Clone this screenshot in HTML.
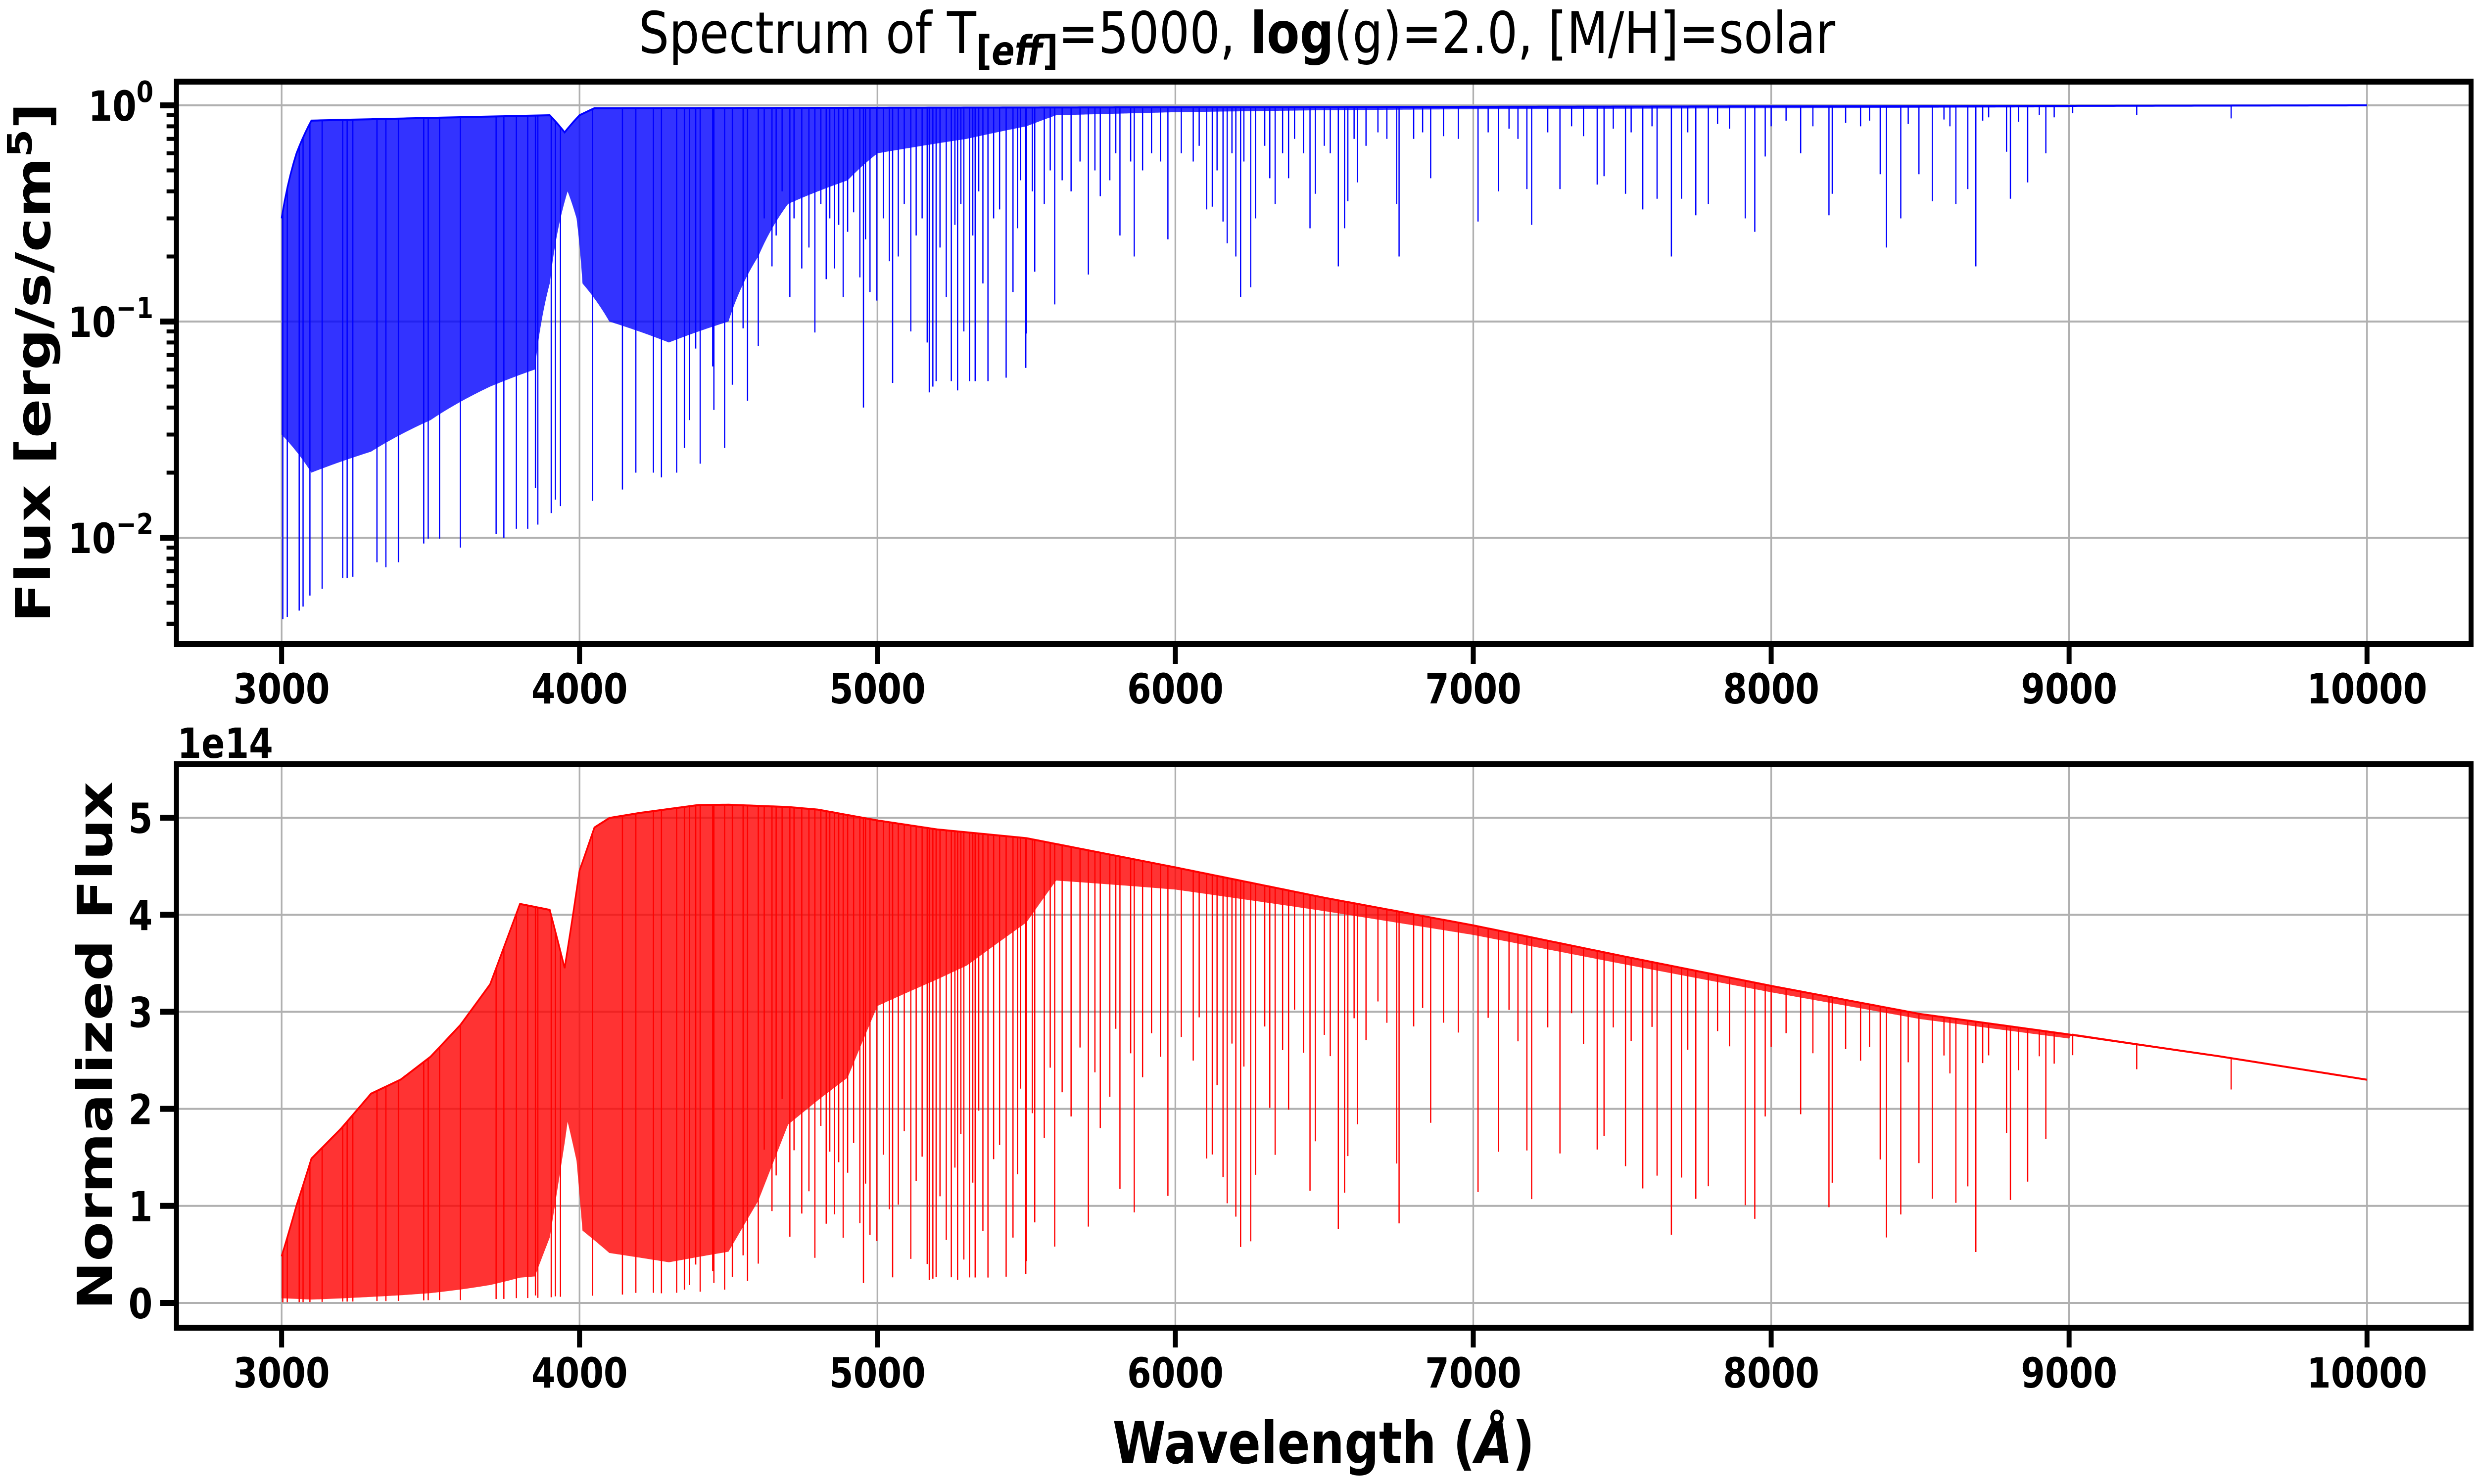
<!DOCTYPE html>
<html><head><meta charset="utf-8"><style>
html,body{margin:0;padding:0;background:#fff;width:100%;height:100%;overflow:hidden}
svg{display:block;width:100vw;height:100vh}
text{font-family:"DejaVu Sans","Liberation Sans",sans-serif}
</style></head><body>
<svg id="chart" viewBox="0 0 6000 3000" preserveAspectRatio="none" xmlns="http://www.w3.org/2000/svg">
<rect width="6000" height="3000" fill="#fff"/>
<defs>
<clipPath id="clipTop"><rect x="428" y="165" width="5565" height="1137"/></clipPath>
<clipPath id="clipBot"><rect x="428" y="1545" width="5565" height="1139"/></clipPath>
</defs>
<text x="3000" y="107" text-anchor="middle" font-size="116">Spectrum of T<tspan font-size="82" dy="24" font-weight="bold">[<tspan font-style="italic">eff</tspan>]</tspan><tspan dy="-24">=5000, </tspan><tspan font-weight="bold">log</tspan>(g)=2.0, [M/H]=solar</text>
<g id="topGrid"></g>
<g id="botGrid"></g>
<g id="topData" clip-path="url(#clipTop)"></g>
<g id="botData" clip-path="url(#clipBot)"></g>
<rect x="428" y="165" width="5565" height="1137" fill="none" stroke="#000" stroke-width="12"/>
<rect x="428" y="1545" width="5565" height="1139" fill="none" stroke="#000" stroke-width="12"/>
<g id="ticks"></g>
<text transform="translate(121,733) rotate(-90)" text-anchor="middle" font-size="117" font-weight="bold">Flux [erg/s/cm<tspan font-size="82" dy="-44">5</tspan><tspan dy="44">]</tspan></text>
<text transform="translate(271,2114) rotate(-90)" text-anchor="middle" font-size="117" font-weight="bold">Normalized Flux</text>
<text x="430" y="1532" font-size="84" font-weight="bold">1e14</text>
<text x="3210" y="2958" text-anchor="middle" font-size="117" font-weight="bold">Wavelength (<tspan font-style="italic">Å</tspan>)</text>
</svg>
<script>
const xTicks=[3000,4000,5000,6000,7000,8000,9000,10000];
const topTickExp=[0,-1,-2];
const botTicks=[0,1,2,3,4,5];
const contW=[3000,3100,3200,3300,3400,3500,3600,3700,3800,3900,3950,4000,4100,4200,4400,4500,4700,4800,5000,5200,5500,6000,6500,7000,7500,8000,8500,9000,9500,10000];
const contF=[1.6,1.75,2.1,2.5,2.65,2.9,3.25,3.7,4.6,4.5,4.6,4.95,5.15,5.2,5.28,5.28,5.25,5.22,5.1,5.0,4.9,4.58,4.25,3.95,3.62,3.3,3.0,2.78,2.55,2.3];
const forestW=[3000,3050,3100,3300,3500,3700,3850,3900,3960,3990,4010,4100,4300,4500,4600,4700,4900,5000,5300,5500,5600,6000,6500,7000,9000,9010,10000];
const forestLow=[0.03,0.025,0.02,0.025,0.035,0.05,0.06,0.15,0.4,0.3,0.15,0.1,0.08,0.1,0.2,0.35,0.45,0.6,0.7,0.8,0.9,0.93,0.95,0.96,0.98,1,1];
const forestHighW=[3000,3050,3100,3900,3950,4000,4050,10000];
const forestHigh=[0.3,0.6,0.85,0.9,0.75,0.9,0.97,1];
const lineW=[3004,3019,3059,3072,3095,3136,3205,3220,3239,3320,3350,3392,3477,3492,3530,3600,3720,3746,3788,3826,3860,3905,3936,3919,3852,4044,4144,4189,4248,4275,4326,4405,4352,4487,4369,4451,4564,4513,4447,4390,4600,4549,4646,4706,4790,4746,4828,4856,4885,4953,4941,4975,4998,5040,5112,5051,5174,5186,5167,5197,5248,5269,5309,5328,5371,5432,5498,5500,5231,5290,5354,5455,5528,5595,5708,5748,5862,5975,5814,6105,6124,6160,6174,6203,6219,6253,6269,6317,6335,6380,6452,6470,6547,6568,6579,6611,6743,6751,6857,7016,7085,7180,7196,7291,7416,7439,7511,7569,7617,7665,7699,7747,7789,7913,7945,7980,8099,8194,8205,8366,8387,8435,8496,8541,8620,8660,8687,8790,8803,8861,8922,9012,9227,9544];
const lineF=[0.0042,0.0043,0.0046,0.0048,0.0054,0.0058,0.0065,0.0065,0.0066,0.0077,0.0073,0.0077,0.0094,0.0099,0.0099,0.009,0.0104,0.01,0.011,0.011,0.0115,0.013,0.014,0.015,0.017,0.0148,0.0167,0.02,0.02,0.019,0.02,0.022,0.026,0.026,0.035,0.039,0.043,0.051,0.062,0.075,0.077,0.093,0.18,0.13,0.089,0.176,0.157,0.176,0.13,0.04,0.16,0.137,0.125,0.19,0.09,0.052,0.047,0.05,0.08,0.053,0.053,0.048,0.053,0.053,0.053,0.055,0.061,0.088,0.13,0.09,0.15,0.137,0.17,0.12,0.165,0.38,0.2,0.24,0.25,0.33,0.34,0.29,0.23,0.2,0.13,0.144,0.3,0.46,0.35,0.46,0.27,0.39,0.18,0.27,0.36,0.44,0.35,0.2,0.46,0.29,0.4,0.41,0.28,0.41,0.43,0.47,0.39,0.33,0.37,0.2,0.37,0.31,0.35,0.3,0.26,0.58,0.6,0.31,0.39,0.48,0.22,0.3,0.48,0.36,0.35,0.41,0.18,0.61,0.37,0.44,0.6,0.92,0.9,0.87];
const shallowW=[4620,4660,4680,4720,4770,4810,4840,4870,4900,4920,4960,5020,5070,5090,5130,5150,5210,5260,5280,5320,5340,5390,5410,5470,5480,5520,5560,5580,5620,5650,5680,5730,5780,5800,5850,5890,5920,5950,6020,6060,6080,6140,6190,6230,6300,6360,6400,6430,6500,6520,6600,6640,6680,6710,6800,6830,6900,6950,7050,7120,7150,7250,7330,7370,7470,7530,7600,7720,7820,7860,8000,8050,8140,8250,8300,8330,8460,8580,8600,8710,8730,8830,8900,8950];
const shallowF=[0.3,0.25,0.4,0.3,0.22,0.35,0.3,0.28,0.26,0.32,0.24,0.3,0.2,0.35,0.25,0.3,0.22,0.28,0.35,0.25,0.4,0.3,0.33,0.27,0.45,0.4,0.35,0.5,0.45,0.4,0.55,0.5,0.45,0.6,0.55,0.5,0.6,0.55,0.6,0.55,0.65,0.5,0.6,0.55,0.65,0.6,0.7,0.6,0.65,0.6,0.7,0.65,0.75,0.7,0.7,0.75,0.72,0.7,0.75,0.78,0.7,0.75,0.8,0.72,0.78,0.75,0.8,0.75,0.82,0.78,0.8,0.85,0.8,0.83,0.8,0.85,0.82,0.86,0.8,0.85,0.88,0.84,0.9,0.88];

const NS='http://www.w3.org/2000/svg';
const X=w=>683+(w-3000)*0.7225;
const YT=f=>213-Math.log10(f)*437;
const YB=v=>2634-v*196.2;
function interp(xs,ys,x){if(x<=xs[0])return ys[0];for(let i=1;i<xs.length;i++){if(x<=xs[i]){const t=(x-xs[i-1])/(xs[i]-xs[i-1]);return ys[i-1]+t*(ys[i]-ys[i-1]);}}return ys[ys.length-1];}
function mk(tag,attrs,parent){const e=document.createElementNS(NS,tag);for(const k in attrs)e.setAttribute(k,attrs[k]);parent.appendChild(e);return e;}
const topGrid=document.getElementById('topGrid'),botGrid=document.getElementById('botGrid');
const ticks=document.getElementById('ticks');
xTicks.forEach(w=>{
  let g=mk('line',{x1:X(w),x2:X(w),y1:165,y2:1302,stroke:'#b0b0b0','stroke-width':4},topGrid);
  
  
  g=mk('line',{x1:X(w),x2:X(w),y1:1545,y2:2684,stroke:'#b0b0b0','stroke-width':4},botGrid);
  
  
  [[1302,1422],[2684,2805]].forEach(([y0,yl])=>{
    const t=mk('line',{x1:X(w),x2:X(w),y1:y0,y2:y0+40,stroke:'#000','stroke-width':12},ticks);
    
    
    const l=mk('text',{x:X(w),y:yl,'text-anchor':'middle','font-size':84,'font-weight':'bold'},ticks);
    l.textContent=w;
    
    
  });
});
topTickExp.forEach(e=>{
  const y=YT(Math.pow(10,e));
  let g=mk('line',{x1:428,x2:5993,y1:y,y2:y,stroke:'#b0b0b0','stroke-width':4},topGrid);
  
  
  const t=mk('line',{x1:388,x2:428,y1:y,y2:y,stroke:'#000','stroke-width':12},ticks);
  
  
  const l=mk('text',{x:372,y:y+31,'text-anchor':'end','font-size':84,'font-weight':'bold'},ticks);
  l.innerHTML='10<tspan font-size="59" dy="-38">'+(e<0?'−'+(-e):e)+'</tspan>';
  
  
  for(let m=2;m<=9;m++){
    const ym=YT(m*Math.pow(10,e-1));
    if(ym>1302||ym<165)continue;
    const mt=mk('line',{x1:404,x2:428,y1:ym,y2:ym,stroke:'#000','stroke-width':8},ticks);
    
    
  }
});
for(let m=4;m<=9;m++){const ym=YT(m*0.001);if(ym<=1302){const mt=mk('line',{x1:404,x2:428,y1:ym,y2:ym,stroke:'#000','stroke-width':8},ticks);

}}
botTicks.forEach(v=>{
  const y=YB(v);
  let g=mk('line',{x1:428,x2:5993,y1:y,y2:y,stroke:'#b0b0b0','stroke-width':4},botGrid);
  
  
  const t=mk('line',{x1:388,x2:428,y1:y,y2:y,stroke:'#000','stroke-width':12},ticks);
  
  
  const l=mk('text',{x:370,y:y+31,'text-anchor':'end','font-size':84,'font-weight':'bold'},ticks);
  l.textContent=v;
  
  
});
const topData=document.getElementById('topData'),botData=document.getElementById('botData');
let upT=[],loT=[],upB=[],loB=[];
for(let w=3000;w<=10000;w+=5){
  const c=interp(contW,contF,w),hi=interp(forestHighW,forestHigh,w),lo=interp(forestW,forestLow,w);
  upT.push(X(w)+','+YT(hi));loT.unshift(X(w)+','+YT(lo));
  upB.push(X(w)+','+YB(hi*c));loB.unshift(X(w)+','+YB(lo*c));
}
const ft=mk('polygon',{points:upT.concat(loT).join(' '),fill:'#0000ff','fill-opacity':0.8,stroke:'none'},topData);


const fb=mk('polygon',{points:upB.concat(loB).join(' '),fill:'#ff0000','fill-opacity':0.8,stroke:'none'},botData);


let cT=[],cB=[];
for(let w=3000;w<=10000;w+=10){const c=interp(contW,contF,w);cT.push(X(w)+','+YT(interp(forestHighW,forestHigh,w)));cB.push(X(w)+','+YB(c*interp(forestHighW,forestHigh,w)));}
const ct=mk('polyline',{points:cT.join(' '),fill:'none',stroke:'#0000ff','stroke-width':4},topData);


const cb=mk('polyline',{points:cB.join(' '),fill:'none',stroke:'#ff0000','stroke-width':4},botData);


function drawLines(ws,fs,name){
  ws.forEach((w,i)=>{
    const c=interp(contW,contF,w),hi=interp(forestHighW,forestHigh,w),f=fs[i];
    const a=mk('line',{x1:X(w),x2:X(w),y1:YT(hi),y2:YT(f),stroke:'#0000ff','stroke-width':3},topData);
    
    
    const b=mk('line',{x1:X(w),x2:X(w),y1:YB(hi*c),y2:YB(f*c),stroke:'#ff0000','stroke-width':3},botData);
    
    
  });
}
drawLines(lineW,lineF,'absorption-line');
drawLines(shallowW,shallowF,'weak-line');
</script>
</body></html>
